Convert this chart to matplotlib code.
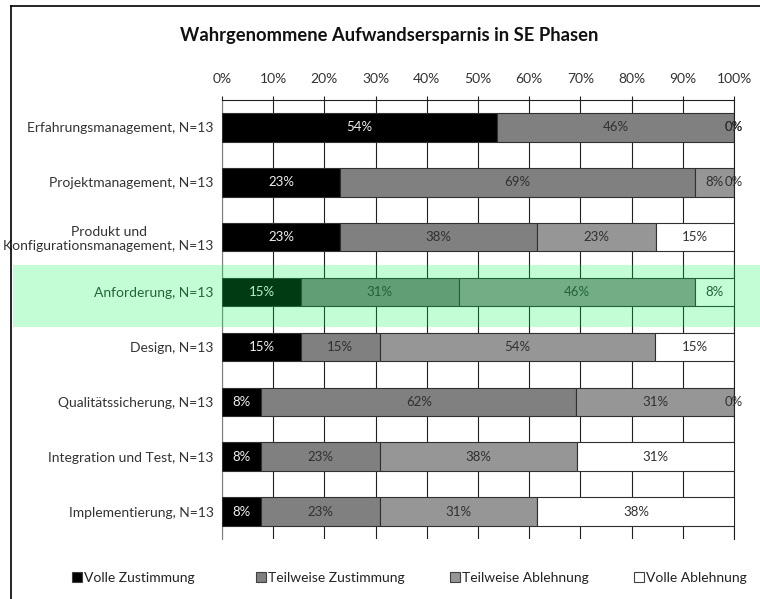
import matplotlib
matplotlib.use("Agg")
import matplotlib.pyplot as plt
from matplotlib.patches import Patch, Rectangle
from matplotlib.transforms import blended_transform_factory
from matplotlib.lines import Line2D
import numpy as np

plt.rcParams['font.family'] = ['Lato', 'DejaVu Sans']

categories = [
    "Erfahrungsmanagement, N=13",
    "Projektmanagement, N=13",
    "Produkt und\nKonfigurationsmanagement, N=13",
    "Anforderung, N=13",
    "Design, N=13",
    "Qualitätssicherung, N=13",
    "Integration und Test, N=13",
    "Implementierung, N=13",
]
series_names = ["Volle Zustimmung", "Teilweise Zustimmung", "Teilweise Ablehnung", "Volle Ablehnung"]
volle_zustimmung   = [53.8, 23.1, 23.1, 15.4, 15.4, 7.7, 7.7, 7.7]
teilweise_zustimmung = [46.2, 69.2, 38.5, 30.8, 15.4, 61.5, 23.1, 23.1]
teilweise_ablehnung = [0.0, 7.7, 23.1, 46.2, 53.8, 30.8, 38.5, 30.8]
volle_ablehnung    = [0.0, 0.0, 15.4, 7.7, 15.4, 0.0, 30.8, 38.5]
xticks = [0, 10, 20, 30, 40, 50, 60, 70, 80, 90, 100]
highlight_row = 3

series = [volle_zustimmung, teilweise_zustimmung, teilweise_ablehnung, volle_ablehnung]
colors = ["#000000", "#808080", "#969696", "#ffffff"]
label_colors = ["#f0f0f0", "#303030", "#303030", "#303030"]

fig = plt.figure(figsize=(7.6, 5.99), dpi=100)
ax = fig.add_axes([222/760, 1-539/599, (734-222)/760, (539-100)/599])

y = np.arange(len(categories))
left = np.zeros(len(categories))
for vals, c, lc in zip(series, colors, label_colors):
    vals = np.array(vals)
    ax.barh(y, vals, left=left, height=0.52, color=c, edgecolor="#303030",
            linewidth=0.8, zorder=3)
    for yi, (l, v) in enumerate(zip(left, vals)):
        ax.text(l + v/2, yi, f"{v:.0f}%", ha="center", va="center",
                fontsize=9.5, color=lc, zorder=4)
    left = left + vals

ax.set_xlim(0, 100)
ax.set_ylim(len(categories) - 0.5, -0.5)
ax.set_yticks(y)
ax.set_yticklabels(categories, fontsize=10, color="#333333", multialignment="center")
ax.set_xticks(xticks)
ax.set_xticklabels([f"{t}%" for t in xticks], fontsize=10, color="#333333")
ax.xaxis.tick_top()
ax.tick_params(axis="x", direction="out", length=3, width=0.8, pad=7.5, color="#202020")
ax.tick_params(axis="y", length=0, pad=6)
ax.grid(axis="x", color="#202020", linewidth=0.8, zorder=0)
ax.set_axisbelow(True)
ax.spines["bottom"].set_visible(False)
ax.spines["left"].set_color("#808080")
ax.spines["top"].set_color("#202020")
ax.spines["right"].set_color("#202020")
for s in ax.spines.values():
    s.set_linewidth(0.8)

# highlight band over the Anforderung row
tr = blended_transform_factory(fig.transFigure, ax.transData)
band = Rectangle((13/760, highlight_row - 0.49), 1 - 13/760, 1.13, transform=tr,
                 facecolor=(0, 250/255, 83/255), alpha=0.24, edgecolor="none",
                 clip_on=False, zorder=10)
ax.add_patch(band)

# title
fig.text(389/760, 1-36/599, "Wahrgenommene Aufwandsersparnis in SE Phasen",
         ha="center", va="center", fontsize=13.2, fontweight="bold", color="#111111")

# figure border (top and left)
fig.add_artist(Line2D([11/760, 1], [1-6/599, 1-6/599], transform=fig.transFigure,
                      color="black", linewidth=1.2))
fig.add_artist(Line2D([11/760, 11/760], [0, 1-6/599], transform=fig.transFigure,
                      color="black", linewidth=1.2))

# legend
legend_x = [72/760, 256/760, 450/760, 634/760]
for name, c, lx in zip(series_names, colors, legend_x):
    h = Patch(facecolor=c, edgecolor="#404040", linewidth=0.8)
    fig.legend([h], [name], loc="center left", bbox_to_anchor=(lx, 1-578/599),
               frameon=False, fontsize=10, handlelength=0.7, handleheight=0.7,
               handletextpad=0.15, borderpad=0, borderaxespad=0,
               labelcolor="#222222")

fig.savefig("out.png", dpi=100)
